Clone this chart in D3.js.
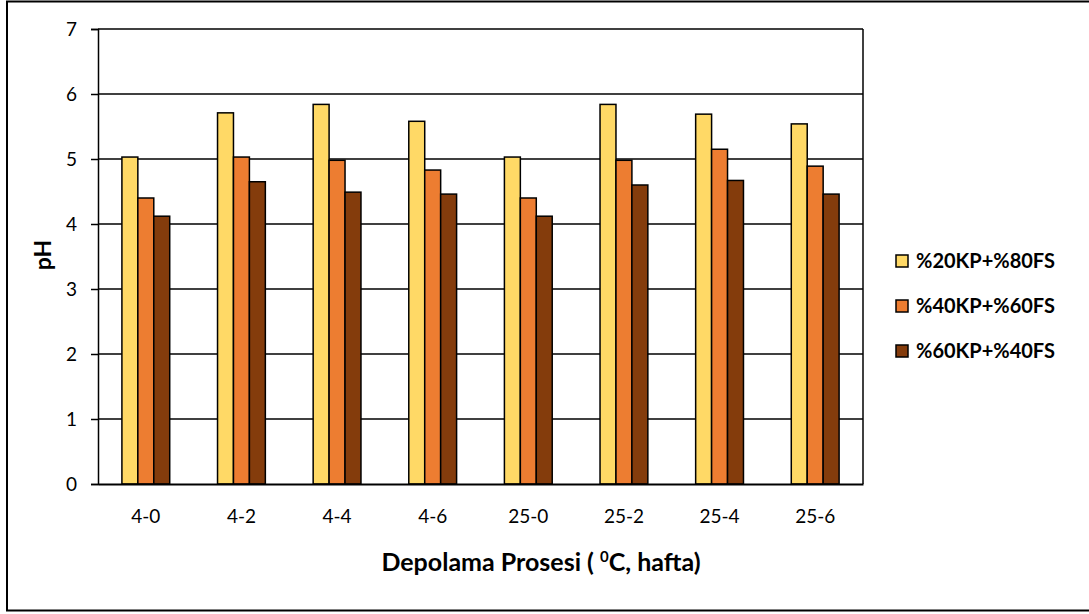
<!DOCTYPE html>
<html><head><meta charset="utf-8">
<script src="https://cdn.jsdelivr.net/npm/d3@7/dist/d3.min.js"></script>
<style>body{margin:0;background:#fff}svg{display:block}</style>
</head><body>
<svg id="c" width="1089" height="614"></svg>
<script>
const categories = ["4-0","4-2","4-4","4-6","25-0","25-2","25-4","25-6"];
const seriesNames = ["%20KP+%80FS","%40KP+%60FS","%60KP+%40FS"];
const s20 = [5.03,5.71,5.84,5.58,5.03,5.84,5.69,5.54];
const s40 = [4.40,5.03,4.98,4.83,4.40,4.98,5.15,4.89];
const s60 = [4.12,4.65,4.49,4.46,4.12,4.60,4.67,4.46];
const yTicks = [0,1,2,3,4,5,6,7];
const colors = ["#FFD966","#ED7D31","#843C0C"];
const series = [s20,s40,s60];

const svg = d3.select("#c");
const font = "Lato, 'Open Sans', sans-serif";
const L=98,R=863,T=29,B=484;

svg.append("rect").attr("x",7).attr("y",1.5).attr("width",1100).attr("height",609)
  .attr("fill","#fff").attr("stroke","#000").attr("stroke-width",2);

const x0 = d3.scaleBand().domain(categories).range([L,R]).paddingInner(0.5).paddingOuter(0.25);
const x1 = d3.scaleBand().domain(seriesNames).range([0,x0.bandwidth()]);
const y = d3.scaleLinear().domain([0,7]).range([B,T]);

svg.append("g").selectAll("line").data(yTicks.filter(d=>d>0)).join("line")
  .attr("x1",L).attr("x2",R).attr("y1",d=>y(d)).attr("y2",d=>y(d))
  .attr("stroke","#000").attr("stroke-width",1.5);
svg.append("line").attr("x1",R).attr("x2",R).attr("y1",T).attr("y2",B).attr("stroke","#000").attr("stroke-width",1.5);

const g = svg.append("g");
categories.forEach((c,i)=>{
  series.forEach((s,j)=>{
    g.append("rect").attr("x",x0(c)+x1(seriesNames[j])).attr("y",y(s[i]))
      .attr("width",x1.bandwidth()).attr("height",B-y(s[i]))
      .attr("fill",colors[j]).attr("stroke","#000").attr("stroke-width",1.5);
  });
});

const ya = svg.append("g").attr("transform",`translate(${L},0)`)
  .call(d3.axisLeft(y).tickValues(yTicks).tickFormat(d3.format("d")).tickSize(7).tickPadding(14));
ya.attr("font-size",null).attr("font-family",null);
ya.select(".domain").attr("stroke","#000").attr("stroke-width",1.5);
ya.selectAll(".tick line").attr("stroke","#000").attr("stroke-width",1.5);
ya.selectAll("text").style("font-family",font).style("font-size","19px").attr("fill","#000");

const xa = svg.append("g").attr("transform",`translate(0,${B})`)
  .call(d3.axisBottom(x0).tickSize(0).tickPadding(26));
xa.attr("font-size",null).attr("font-family",null);
xa.select(".domain").attr("stroke","#000").attr("stroke-width",2);
xa.selectAll("text").style("font-family",font).style("font-size","19px").attr("fill","#000");

const xt = svg.append("text").attr("x",541).attr("y",571).attr("text-anchor","middle")
  .style("font-family",font).style("font-size","25px").style("font-weight","bold");
xt.append("tspan").text("Depolama Prosesi ( ");
xt.append("tspan").attr("dy",-9).style("font-size","15px").text("0");
xt.append("tspan").attr("dy",9).text("C, hafta)");

svg.append("text").attr("transform","translate(51,255) rotate(-90)").attr("text-anchor","middle")
  .style("font-family",font).style("font-size","23px").style("font-weight","bold").text("pH");

const lg = svg.append("g");
seriesNames.forEach((n,j)=>{
  const cy = 261 + j*45;
  lg.append("rect").attr("x",896).attr("y",cy-6).attr("width",12).attr("height",12)
    .attr("fill",colors[j]).attr("stroke","#000").attr("stroke-width",1.5);
  lg.append("text").attr("x",916).attr("y",cy).attr("dy","0.36em")
    .style("font-family",font).style("font-size","20px").style("font-weight","bold").text(n);
});
</script>
</body></html>
